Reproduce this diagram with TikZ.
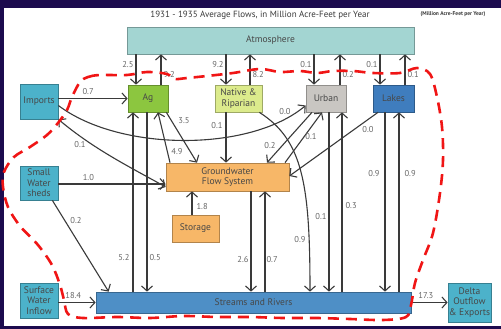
\documentclass[tikz,border=0pt]{standalone}
\usepackage{fontspec}
\setmainfont{PT Sans}
\usepackage{xcolor}
\definecolor{frame}{HTML}{1C0B4E}
\definecolor{ink}{HTML}{3A3A3A}
\definecolor{lbl}{HTML}{666666}
\definecolor{atmfill}{HTML}{A3D5D2}
\definecolor{agfill}{HTML}{8CC63F}
\definecolor{natfill}{HTML}{DCEB8C}
\definecolor{urbfill}{HTML}{C9C6C2}
\definecolor{lakfill}{HTML}{3F7DBE}
\definecolor{srcfill}{HTML}{4CB2CA}
\definecolor{gwfill}{HTML}{F7B768}
\definecolor{strfill}{HTML}{4E8FC6}
\definecolor{boundred}{HTML}{F01515}
\usetikzlibrary{arrows.meta,calc}

\begin{document}
\begin{tikzpicture}[x=1pt,y=-1pt,font=\fontsize{9.5}{10.5}\selectfont,
  box/.style={draw=#1!72!black,fill=#1,line width=0.7pt,align=center,inner sep=0pt,text=black!72},
  fl/.style={ink,line width=1.1pt,-{Straight Barb[length=5pt,width=11pt,line width=1.1pt]}},
  fltwo/.style={ink,line width=1.1pt,{Straight Barb[length=5pt,width=11pt,line width=1.1pt]}-{Straight Barb[length=5pt,width=11pt,line width=1.1pt]}},
  num/.style={lbl,font=\fontsize{8.5}{9}\selectfont,inner sep=0pt}]
  \useasboundingbox (0,0) rectangle (501,329);
  \fill[frame] (0,0) rectangle (501,329);
  \fill[white] (4,8) rectangle (501,326);

  \node[ink,font=\fontsize{9}{10}\selectfont] (title) at (260,15) {1931 - 1935 Average Flows, in Million Acre-Feet per Year};
  \node[ink,font=\fontsize{5.5}{6}\selectfont\bfseries] (unit) at (453,14) {(Million Acre-Feet per Year)};

  % water budget compartments
  \node[box=atmfill,minimum width=287,minimum height=27] (atm) at (270.5,40.5) {Atmosphere};
  \node[box=agfill,minimum width=40,minimum height=27] (ag) at (148,98.5) {Ag};
  \node[box=natfill,minimum width=47,minimum height=27] (nat) at (238.5,98.5) {Native \&\\Riparian};
  \node[box=urbfill,minimum width=40,minimum height=27] (urb) at (326,98.5) {Urban};
  \node[box=lakfill,minimum width=41,minimum height=27] (lak) at (393.5,98.5) {Lakes};
  \node[box=srcfill,minimum width=38,minimum height=35] (imp) at (39,101.5) {Imports};
  \node[box=srcfill,minimum width=38,minimum height=34] (sws) at (39,183) {Small\\Water\\sheds};
  \node[box=srcfill,minimum width=38,minimum height=35] (swi) at (39,300.5) {Surface\\Water\\Inflow};
  \node[box=gwfill,minimum width=123,minimum height=28] (gw) at (227.5,177) {Groundwater\\Flow System};
  \node[box=gwfill,minimum width=47,minimum height=27] (sto) at (195.5,228.5) {Storage};
  \node[box=strfill,minimum width=315,minimum height=21] (str) at (253.5,302.5) {Streams and Rivers};
  \node[box=srcfill,minimum width=43,minimum height=39] (dlt) at (469.5,302.5) {Delta\\Outflow\\\& Exports};

  % exchange with the atmosphere
  \foreach \b/\dx/\ux/\dn/\up in {ag/-12/13/2.5/9.2,nat/-12.5/11.5/9.2/8.2,urb/-12/14/0.1/0.2,lak/-13.5/11.5/0.1/0.1} {
    \draw[fl] ([xshift=\dx]\b.north |- atm.south) -- node[num,left=2pt,pos=0.32]{\dn} ([xshift=\dx]\b.north);
    \draw[fl] ([xshift=\ux]\b.north) -- node[num,right=2pt,pos=0.32]{\up} ([xshift=\ux]\b.north |- atm.south);
  }

  % exchange with streams and rivers
  \draw[fl] ([xshift=-15]ag.south |- str.north) -- node[num,left=3pt,pos=0.19]{5.2} ([xshift=-15]ag.south);
  \draw[fl] ([xshift=-1]ag.south) -- node[num,right=2pt,pos=0.81]{0.5} ([xshift=-1]ag.south |- str.north);
  \draw[fl] ([xshift=23.5]gw.south) -- node[num,left=2pt,pos=0.68]{2.6} ([xshift=23.5]gw.south |- str.north);
  \draw[fl] ([xshift=37.5]gw.south |- str.north) -- node[num,right=1pt,pos=0.32]{0.7} ([xshift=37.5]gw.south);
  \draw[fl] ([xshift=3]urb.south) -- node[num,left=2pt,pos=0.58]{0.1} ([xshift=3]urb.south |- str.north);
  \draw[fl] ([xshift=16]urb.south |- str.north) -- node[num,right=3pt,pos=0.48]{0.3} ([xshift=16]urb.south);
  \draw[fl] ([xshift=-8.5]lak.south) -- node[num,left=5pt,pos=0.34]{0.9} ([xshift=-8.5]lak.south |- str.north);
  \draw[fl] ([xshift=5.5]lak.south |- str.north) -- node[num,right=5pt,pos=0.66]{0.9} ([xshift=5.5]lak.south);
  \draw[fl] ([xshift=-3]nat.south east) .. controls (303,140) and (310,185) .. ([xshift=56.5]str.north) node[num] at (300,240) {0.9};

  % groundwater links
  \draw[fl] ([xshift=-3.5]sto.north) -- node[num,right=4pt,pos=0.33]{1.8} ([xshift=-3.5]sto.north |- gw.south);
  \draw[fl] ([xshift=-12.5]nat.south) -- node[num,left=3pt,pos=0.27]{0.1} ([xshift=-12.5]nat.south |- gw.north);
  \draw[fl] ([xshift=-2]ag.south east) -- ([xshift=-30.5]gw.north) node[num] at (184,121) {3.5};
  \draw[fl] ([xshift=-57.5]gw.north) -- ([xshift=10]ag.south) node[num] at (177,152) {4.9};
  \draw[fl] ([xshift=-14]urb.south) -- ([xshift=39.5]gw.north) node[num] at (270,146) {0.2};
  \draw[fl] ([xshift=57.5]gw.north) -- ([xshift=-4]urb.south) node[num] at (311,137) {0.1};
  \draw[fl] ([xshift=-15.5]lak.south) -- ([yshift=1]gw.east) node[num] at (368,130) {0.0};

  % imports and inflows
  \draw[fl] (imp.east |- ag.west) -- node[num,above=3pt,pos=0.43]{0.7} (ag.west);
  \draw[fl] ([yshift=-4]imp.east) .. controls (120,152) and (250,152) .. ([yshift=-7]urb.west) node[num] at (285,112) {0.0};
  \draw[fltwo] (imp.south east) .. controls (95,150) and (130,167) .. ([yshift=-10]gw.west) node[num] at (80,145) {0.1};
  \draw[fl] ([yshift=-7]gw.west -| sws.east) -- node[num,above=3pt,pos=0.28]{1.0} ([yshift=-7]gw.west);
  \draw[fl] ([xshift=-6]sws.south east) -- ([xshift=13]str.north west) node[num] at (76,221) {0.2};
  \draw[fl] (swi.east |- str.west) -- node[num,above=3pt,pos=0.4]{18.4} (str.west);
  \draw[fl] (str.east) -- node[num,above=3pt,pos=0.4]{17.3} (dlt.west |- str.east);

  % system boundary
  \draw[boundred,line width=2.6pt,dash pattern=on 11pt off 7pt] plot[smooth cycle,tension=0.55] coordinates {
    (80,82) (88,77) (100,75) (127,75) (147,72) (167,74) (174,79) (187,78) (207,76) (233,73)
    (260,69) (280,72) (300,71) (317,73) (333,71) (353,71) (373,73) (400,73) (417,68) (430,74)
    (437,97) (442,127) (443,160) (440,193) (433,233) (423,260) (415,283) (411,305) (406,317)
    (383,320) (350,319) (317,318) (283,318) (250,317) (217,317) (183,316) (150,318) (117,317)
    (83,318) (68,314) (64,300) (60,285) (52,265) (38,245) (20,226) (8,207) (3,187) (4,172)
    (14,157) (30,147) (47,135) (58,123) (67,110) (72,97)};
\end{tikzpicture}
\end{document}
